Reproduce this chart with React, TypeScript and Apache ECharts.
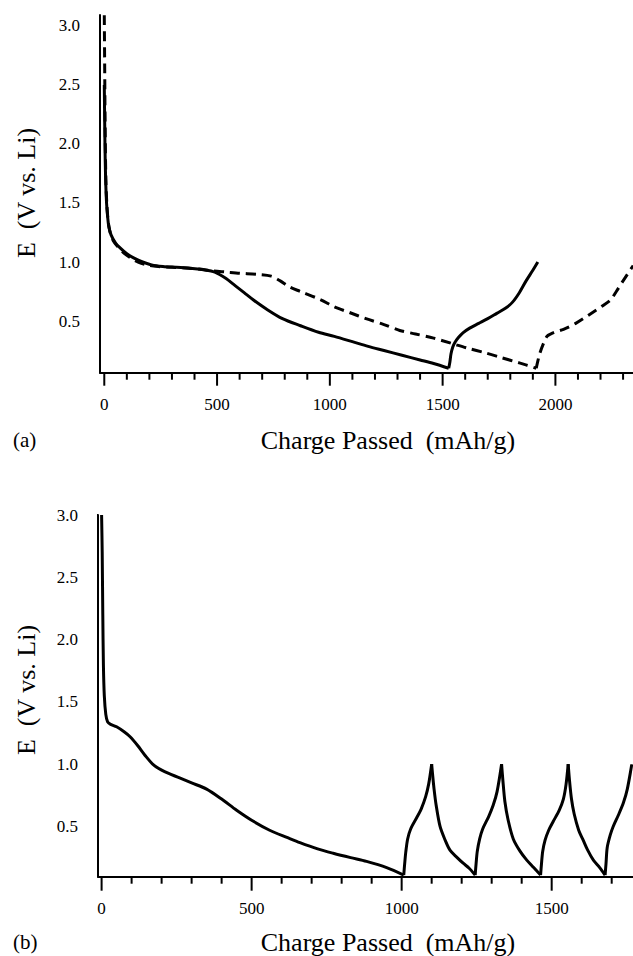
import React, { useEffect, useRef } from "react";
import * as echarts from "echarts";

// ---------- data ----------
// Panel (a)
const aSolidDischarge: [number, number][] = [
  [0, 2.5], [3, 2.0], [6, 1.7], [10, 1.5], [15, 1.38], [20, 1.3], [30, 1.23], [50, 1.16],
  [70, 1.12], [100, 1.07], [130, 1.035], [170, 1.0], [210, 0.975], [260, 0.962], [320, 0.955],
  [380, 0.948], [440, 0.935], [490, 0.915], [540, 0.86], [580, 0.8], [620, 0.74], [660, 0.68],
  [720, 0.6], [790, 0.52], [870, 0.46], [950, 0.405], [1020, 0.37], [1100, 0.325], [1170, 0.285],
  [1240, 0.25], [1320, 0.21], [1400, 0.17], [1460, 0.14], [1527, 0.1],
];
const aSolidCharge: [number, number][] = [
  [1527, 0.1], [1532, 0.15], [1537, 0.22], [1545, 0.28], [1555, 0.32], [1570, 0.36], [1590, 0.4],
  [1620, 0.44], [1660, 0.48], [1700, 0.52], [1740, 0.565], [1780, 0.61], [1810, 0.66],
  [1840, 0.74], [1870, 0.84], [1900, 0.93], [1922, 1.0],
];
const aDashedDischarge: [number, number][] = [
  [0, 3.09], [2, 2.6], [4, 2.1], [7, 1.7], [11, 1.5], [17, 1.35], [25, 1.26], [40, 1.18],
  [60, 1.13], [90, 1.07], [120, 1.03], [150, 1.0], [190, 0.975], [240, 0.962], [300, 0.955],
  [360, 0.95], [420, 0.94], [480, 0.925], [540, 0.915], [600, 0.905], [680, 0.895], [740, 0.88],
  [780, 0.84], [820, 0.79], [870, 0.75], [960, 0.68], [1020, 0.62], [1090, 0.57], [1160, 0.52],
  [1240, 0.47], [1310, 0.42], [1380, 0.39], [1460, 0.355], [1540, 0.31], [1610, 0.27],
  [1690, 0.23], [1760, 0.19], [1840, 0.145], [1915, 0.1],
];
const aDashedCharge: [number, number][] = [
  [1915, 0.1], [1922, 0.16], [1930, 0.22], [1945, 0.3], [1963, 0.37], [1990, 0.4], [2036, 0.43],
  [2090, 0.48], [2155, 0.56], [2210, 0.63], [2245, 0.68], [2270, 0.75], [2300, 0.84], [2345, 0.97],
];

// Panel (b)
const bFirstDischarge: [number, number][] = [
  [0, 3.0], [2, 2.7], [4, 2.2], [6, 1.8], [9, 1.55], [14, 1.4], [20, 1.34], [30, 1.32],
  [50, 1.3], [75, 1.26], [95, 1.22], [120, 1.15], [145, 1.07], [175, 0.99], [210, 0.94],
  [260, 0.89], [300, 0.85], [350, 0.8], [400, 0.72], [450, 0.63], [500, 0.55], [560, 0.47],
  [620, 0.41], [661, 0.37], [720, 0.32], [772, 0.285], [830, 0.25], [883, 0.22], [950, 0.17],
  [1007, 0.11],
];
const bCharge1: [number, number][] = [
  [1007, 0.11], [1010, 0.2], [1014, 0.3], [1020, 0.4], [1030, 0.48], [1050, 0.57], [1065, 0.64],
  [1080, 0.74], [1090, 0.84], [1100, 1.0],
];
const bDischarge1: [number, number][] = [
  [1100, 1.0], [1103, 0.92], [1108, 0.8], [1115, 0.67], [1128, 0.5], [1145, 0.39], [1161, 0.31],
  [1185, 0.25], [1205, 0.205], [1225, 0.165], [1245, 0.11],
];
const bCharge2: [number, number][] = [
  [1245, 0.11], [1248, 0.2], [1252, 0.3], [1260, 0.4], [1270, 0.48], [1290, 0.58], [1305, 0.67],
  [1318, 0.78], [1333, 1.0],
];
const bDischarge2: [number, number][] = [
  [1333, 1.0], [1337, 0.88], [1344, 0.7], [1355, 0.55], [1372, 0.4], [1395, 0.3], [1417, 0.23],
  [1440, 0.17], [1463, 0.11],
];
const bCharge3: [number, number][] = [
  [1463, 0.11], [1466, 0.2], [1470, 0.3], [1478, 0.39], [1490, 0.47], [1505, 0.54], [1525, 0.63],
  [1539, 0.72], [1548, 0.84], [1555, 1.0],
];
const bDischarge3: [number, number][] = [
  [1555, 1.0], [1559, 0.88], [1566, 0.72], [1575, 0.6], [1590, 0.47], [1605, 0.39], [1620, 0.31],
  [1639, 0.23], [1660, 0.17], [1678, 0.11],
];
const bCharge4: [number, number][] = [
  [1678, 0.11], [1681, 0.2], [1685, 0.33], [1695, 0.43], [1705, 0.5], [1722, 0.59], [1739, 0.69],
  [1752, 0.8], [1767, 1.0],
];

// axis ranges and tick values
const aXRange = [-19, 2344];
const aYRange = [0.062, 3.093];
const bXRange = [-12, 1771];
const bYRange = [0.097, 3.0];
const yTickValues = [0.5, 1.0, 1.5, 2.0, 2.5, 3.0];
const aXMajor = [0, 500, 1000, 1500, 2000];
const aXMinor = [100, 200, 300, 400, 600, 700, 800, 900, 1100, 1200, 1300, 1400, 1600, 1700, 1800, 1900, 2100, 2200, 2300];
const bXMajor = [0, 500, 1000, 1500];
const bXMinor = [100, 200, 300, 400, 600, 700, 800, 900, 1100, 1200, 1300, 1400, 1600, 1700];
const xTickStep = 500;
const yTickStep = 0.5;
const yTickRange = [0.5, 3.0];
const aXTickRange = [0, 2500];
const bXTickRange = [0, 2000];

const yTitle = "E  (V vs. Li)";
const xTitle = "Charge Passed  (mAh/g)";

const FONT = "Liberation Serif";

export default function App() {
  const ref = useRef<HTMLDivElement>(null);
  useEffect(() => {
    if (!ref.current) return;
    const chart = echarts.init(ref.current, undefined, { renderer: "svg" });

    // panel geometry (pixels)
    const A = { left: 100, top: 15, width: 533, height: 357.7 };
    const B = { left: 98, top: 515, width: 535, height: 361.7 };
    const pxXA = A.width / (aXRange[1] - aXRange[0]);
    const pxYA = A.height / (aYRange[1] - aYRange[0]);
    const pxXB = B.width / (bXRange[1] - bXRange[0]);
    const pxYB = B.height / (bYRange[1] - bYRange[0]);

    const gridBase = { outerBoundsMode: "none", containLabel: false, show: false };

    // label-only grids aligned with the data grids
    const labelGrids = (P: any, xr: number[], yr: number[], xtr: number[]) => {
      const pxX = P.width / (xr[1] - xr[0]);
      const pxY = P.height / (yr[1] - yr[0]);
      return [
        {
          ...gridBase,
          left: P.left + (xtr[0] - xr[0]) * pxX,
          width: (xtr[1] - xtr[0]) * pxX,
          top: P.top,
          height: P.height,
        },
        {
          ...gridBase,
          left: P.left,
          width: P.width,
          top: P.top + (yr[1] - yTickRange[1]) * pxY,
          height: (yTickRange[1] - yTickRange[0]) * pxY,
        },
      ];
    };

    const grids = [
      { ...gridBase, ...A },
      ...labelGrids(A, aXRange, aYRange, aXTickRange),
      { ...gridBase, ...B },
      ...labelGrids(B, bXRange, bYRange, bXTickRange),
    ];

    const hidden = { show: false };
    const dummy = (grid: number) => ({ type: "value", gridIndex: grid, min: 0, max: 1, show: false });

    const dataAxis = (grid: number, range: number[], pos: string) => ({
      type: "value",
      gridIndex: grid,
      position: pos,
      min: range[0],
      max: range[1],
      axisLine: { show: true, onZero: false, lineStyle: { color: "#000", width: 2 } },
      axisTick: hidden,
      axisLabel: hidden,
      splitLine: hidden,
    });
    const xLabelAxis = (grid: number, tr: number[], visibleMax: number, margin: number) => ({
      type: "value",
      gridIndex: grid,
      position: "bottom",
      min: tr[0],
      max: tr[1],
      interval: xTickStep,
      axisLine: { show: false, onZero: false },
      axisTick: hidden,
      splitLine: hidden,
      axisLabel: {
        show: true,
        margin,
        color: "#000",
        fontFamily: FONT,
        fontSize: 17,
        formatter: (v: number) => (v > visibleMax ? "" : String(v)),
      },
    });
    const yLabelAxis = (grid: number) => ({
      type: "value",
      gridIndex: grid,
      position: "left",
      min: yTickRange[0],
      max: yTickRange[1],
      interval: yTickStep,
      axisLine: { show: false, onZero: false },
      axisTick: hidden,
      splitLine: hidden,
      axisLabel: {
        show: true,
        margin: 20,
        color: "#000",
        fontFamily: FONT,
        fontSize: 17,
        formatter: (v: number) => v.toFixed(1),
      },
    });

    const lineSeries = (data: [number, number][], dashed: boolean, idx: number) => ({
      type: "line",
      xAxisIndex: idx,
      yAxisIndex: idx,
      data,
      showSymbol: false,
      symbol: "none",
      smooth: 0.3,
      silent: true,
      lineStyle: { color: "#000", width: 3, type: dashed ? [10, 6] : "solid", cap: "butt", join: "round" },
    });

    // tick marks: short two-point line series placed through the data axes' scales
    const tickSeg = (idx: number, p1: [number, number], p2: [number, number]) => ({
      type: "line",
      xAxisIndex: idx,
      yAxisIndex: idx,
      data: [p1, p2],
      showSymbol: false,
      symbol: "none",
      smooth: false,
      clip: false,
      silent: true,
      z: 5,
      lineStyle: { color: "#000", width: 2, type: "solid", cap: "butt" },
    });
    const xTicks = (idx: number, values: number[], yBase: number, lenPx: number, pxY: number) =>
      values.map((v) => tickSeg(idx, [v, yBase], [v, yBase - lenPx / pxY]));
    const yTicks = (idx: number, values: number[], xBase: number, lenPx: number, pxX: number) =>
      values.map((v) => tickSeg(idx, [xBase - lenPx / pxX, v], [xBase, v]));

    const textEl = (text: string, x: number, y: number, size: number, rot = 0, align = "center") => ({
      type: "text",
      x,
      y,
      rotation: rot,
      silent: true,
      style: {
        text,
        fontFamily: FONT,
        fontSize: size,
        fill: "#000",
        textAlign: align,
        textVerticalAlign: "middle",
      },
    });

    chart.setOption({
      animation: false,
      backgroundColor: "#fff",
      textStyle: { fontFamily: FONT, fontSize: 17, color: "#000" },
      grid: grids,
      xAxis: [
        dataAxis(0, aXRange, "bottom"),
        xLabelAxis(1, aXTickRange, aXRange[1], 23),
        dummy(2),
        dataAxis(3, bXRange, "bottom"),
        xLabelAxis(4, bXTickRange, bXRange[1], 23),
        dummy(5),
      ],
      yAxis: [
        dataAxis(0, aYRange, "left"),
        dummy(1),
        yLabelAxis(2),
        dataAxis(3, bYRange, "left"),
        dummy(4),
        yLabelAxis(5),
      ],
      series: [
        lineSeries(aSolidDischarge, false, 0),
        lineSeries(aSolidCharge, false, 0),
        lineSeries(aDashedDischarge, true, 0),
        lineSeries(aDashedCharge, true, 0),
        lineSeries(bFirstDischarge, false, 3),
        lineSeries(bCharge1, false, 3),
        lineSeries(bDischarge1, false, 3),
        lineSeries(bCharge2, false, 3),
        lineSeries(bDischarge2, false, 3),
        lineSeries(bCharge3, false, 3),
        lineSeries(bDischarge3, false, 3),
        lineSeries(bCharge4, false, 3),
        ...xTicks(0, aXMajor, aYRange[0], 13, pxYA),
        ...xTicks(0, aXMinor, aYRange[0], 7, pxYA),
        ...yTicks(0, yTickValues, aXRange[0], 14, pxXA),
        ...xTicks(3, bXMajor, bYRange[0], 14, pxYB),
        ...xTicks(3, bXMinor, bYRange[0], 7, pxYB),
        ...yTicks(3, yTickValues, bXRange[0], 15, pxXB),
      ],
      graphic: [
        textEl(yTitle, 26, 193, 26, Math.PI / 2),
        textEl(yTitle, 26, 690, 26, Math.PI / 2),
        textEl(xTitle, 388, 440, 26),
        textEl(xTitle, 388, 942, 26),
        textEl("(a)", 13, 440, 21, 0, "left"),
        textEl("(b)", 13, 942, 21, 0, "left"),
      ],
    } as any);

    return () => chart.dispose();
  }, []);

  return (
    <div
      ref={ref}
      style={{ position: "absolute", left: 0, top: 0, width: 633, height: 956 }}
    />
  );
}
